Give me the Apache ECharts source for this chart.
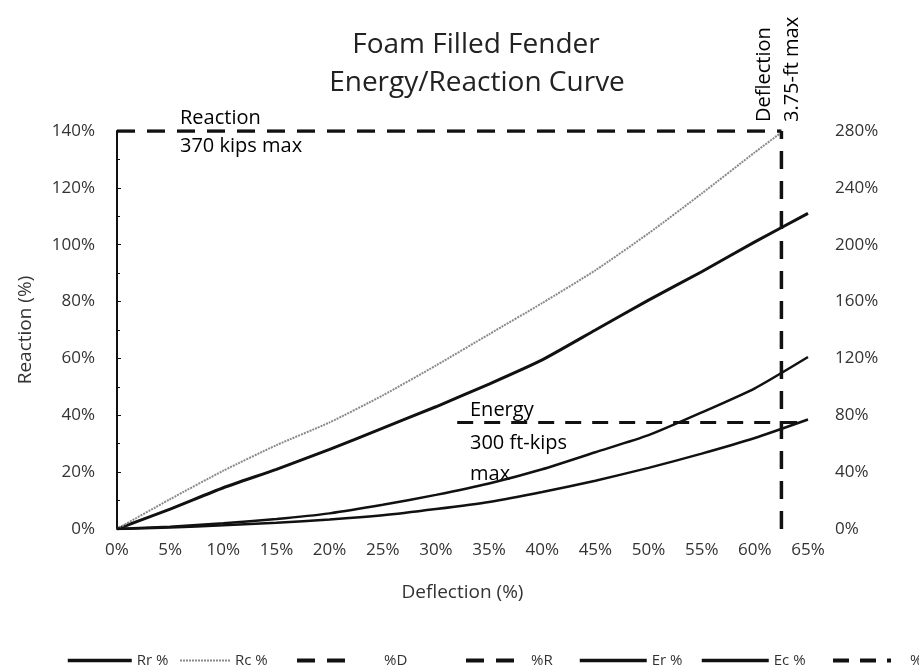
<!DOCTYPE html>
<html lang="en">
  <head>
    <meta charset="UTF-8" />
    <title>Foam Filled Fender</title>
    <script src="https://cdn.jsdelivr.net/npm/echarts@6/dist/echarts.min.js"></script>
    <style>
      body {
        margin: 0;
        background: #fff;
      }
      #main {
        width: 919px;
        height: 670px;
      }
    </style>
  </head>
  <body>
    <div id="main"></div>
    <script>
      // deflection (%) along x
      var deflection = [0, 5, 10, 15, 20, 25, 30, 35, 40, 45, 50, 55, 60, 65];
      // reaction curves, left axis (%)
      var rrPct = [0, 7, 14.5, 21, 28, 35.5, 43, 51, 59.5, 70, 80.5, 90.5, 101, 111];
      var rcDeflection = [0, 5, 10, 15, 20, 25, 30, 35, 40, 45, 50, 55, 60, 62.5];
      var rcPct = [0, 10.5, 20.5, 29.5, 37.5, 47, 57.5, 68.5, 79.5, 91, 104, 118, 132.5, 139.5];
      // energy curves, right axis (%)
      var erPct = [0, 1.6, 4, 7, 11, 17, 24, 32, 42, 54, 66, 82, 99, 121];
      var ecPct = [0, 1, 2.6, 4.4, 6.6, 9.6, 14, 19, 26, 34, 43, 53, 64, 77];
      // limit lines
      var dLine = { x: [62.5, 62.5], y: [0, 140] };
      var rLine = { x: [0, 62.5], y: [140, 140] };
      var eLine = { x: [32, 65], y: [75, 75] };

      var leftTicks = [0, 20, 40, 60, 80, 100, 120, 140];
      var rightTicks = [0, 40, 80, 120, 160, 200, 240, 280];

      function pairs(xs, ys) {
        return xs.map(function (x, i) {
          return [x, ys[i]];
        });
      }

      var font = "'Open Sans', 'DejaVu Sans', sans-serif";
      var ink = "#111";

      var myChart = echarts.init(document.getElementById("main"));

      function legendFor(name, left, w, pad, lw) {
        return {
          data: [name],
          left: left,
          top: 648,
          itemWidth: w,
          itemHeight: 14,
          itemStyle: { opacity: 0 },
          lineStyle: { width: lw },
          textStyle: {
            fontFamily: font,
            fontSize: 15,
            color: "#333",
            padding: [0, 0, 0, pad],
          },
        };
      }

      function note(text, x, y, rot) {
        return {
          type: "text",
          x: x,
          y: y,
          rotation: rot || 0,
          style: { text: text, font: "20px " + font, fill: "#000", textVerticalAlign: "middle" },
        };
      }

      var option = {
        animation: false,
        grid: { left: 117, right: 111, top: 131, bottom: 141 },
        legend: [
          legendFor("Rr %", 61, 64, 0, 3.5),
          legendFor("Rc %", 174, 50, 0, 2),
          legendFor("%D", 290, 60, 22, 4),
          legendFor("%R", 459, 54, 6, 4),
          legendFor("Er %", 573, 67, 0, 3.5),
          legendFor("Ec %", 695, 67, 0, 3.5),
          legendFor("%E", 826, 58, 14, 4),
        ],
        graphic: [
          { type: "text", x: 476, y: 45, style: { text: "Foam Filled Fender", font: "28px " + font, fill: "#222", textAlign: "center", textVerticalAlign: "middle" } },
          { type: "text", x: 477, y: 83, style: { text: "Energy/Reaction Curve", font: "28px " + font, fill: "#222", textAlign: "center", textVerticalAlign: "middle" } },
          note("Reaction", 180, 118),
          note("370 kips max", 180, 146),
          note("Energy", 470, 410),
          note("300 ft-kips", 470, 443),
          note("max", 470, 474),
          note("Deflection", 764, 122, Math.PI / 2),
          note("3.75-ft max", 792, 122, Math.PI / 2),
        ],
        xAxis: {
          type: "value",
          min: 0,
          max: 65,
          interval: 5,
          name: "Deflection (%)",
          nameLocation: "middle",
          nameGap: 54,
          nameTextStyle: { fontFamily: font, fontSize: 19, color: "#333" },
          axisLine: { show: false },
          axisTick: { show: false },
          splitLine: { show: false },
          axisLabel: {
            formatter: "{value}%",
            fontFamily: font,
            fontSize: 17,
            color: "#333",
            margin: 13,
          },
        },
        yAxis: [
          {
            type: "value",
            min: leftTicks[0],
            max: leftTicks[leftTicks.length - 1],
            interval: 20,
            name: "Reaction (%)",
            nameLocation: "middle",
            nameGap: 82,
            nameTextStyle: { fontFamily: font, fontSize: 19, color: "#333" },
            axisLine: { show: true, lineStyle: { color: ink, width: 2 } },
            axisTick: { show: true, inside: true, length: 4, lineStyle: { color: ink } },
            minorTick: { show: true, splitNumber: 2, length: 3, lineStyle: { color: ink } },
            splitLine: { show: false },
            axisLabel: {
              formatter: "{value}%",
              fontFamily: font,
              fontSize: 17,
              color: "#333",
              margin: 22,
            },
          },
          {
            type: "value",
            min: rightTicks[0],
            max: rightTicks[rightTicks.length - 1],
            interval: 40,
            axisLine: { show: false },
            axisTick: { show: false },
            splitLine: { show: false },
            axisLabel: {
              formatter: "{value}%",
              fontFamily: font,
              fontSize: 17,
              color: "#333",
              margin: 27,
            },
          },
        ],
        series: [
          {
            name: "Rr %",
            type: "line",
            symbol: "none",
            smooth: 0.2,
            data: pairs(deflection, rrPct),
            lineStyle: { color: ink, width: 3 },
            itemStyle: { color: ink },
          },
          {
            name: "Rc %",
            type: "line",
            symbol: "none",
            smooth: 0.2,
            data: pairs(rcDeflection, rcPct),
            lineStyle: { color: "#8a8a8a", width: 2, type: [2, 1] },
            itemStyle: { color: "#8a8a8a" },
          },
          {
            name: "%D",
            type: "line",
            symbol: "none",
            data: pairs(dLine.x, dLine.y),
            lineStyle: { color: ink, width: 3.5, type: [18, 12] },
            itemStyle: { color: ink },
          },
          {
            name: "%R",
            type: "line",
            symbol: "none",
            data: pairs(rLine.x, rLine.y),
            lineStyle: { color: ink, width: 3.5, type: [18, 12] },
            itemStyle: { color: ink },
          },
          {
            name: "Er %",
            type: "line",
            yAxisIndex: 1,
            symbol: "none",
            smooth: 0.2,
            data: pairs(deflection, erPct),
            lineStyle: { color: ink, width: 2.5 },
            itemStyle: { color: ink },
          },
          {
            name: "Ec %",
            type: "line",
            yAxisIndex: 1,
            symbol: "none",
            smooth: 0.2,
            data: pairs(deflection, ecPct),
            lineStyle: { color: ink, width: 2.5 },
            itemStyle: { color: ink },
          },
          {
            name: "%E",
            type: "line",
            yAxisIndex: 1,
            symbol: "none",
            data: pairs(eLine.x, eLine.y),
            lineStyle: { color: ink, width: 3, type: [16, 11] },
            itemStyle: { color: ink },
          },
        ],
      };
      myChart.setOption(option);
    </script>
  </body>
</html>
